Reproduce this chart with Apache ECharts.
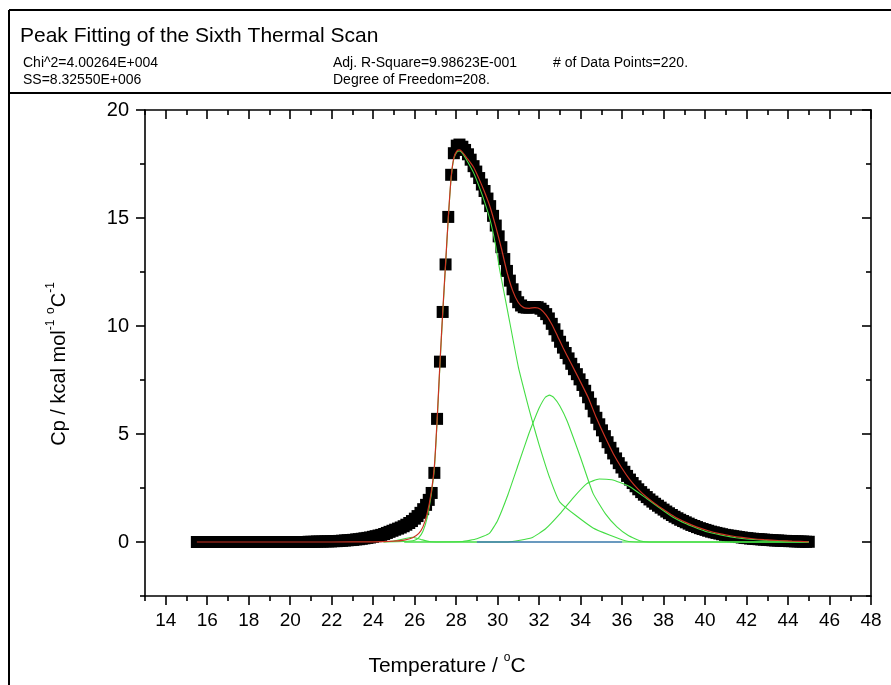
<!DOCTYPE html>
<html>
<head>
<meta charset="utf-8">
<script src="https://cdn.jsdelivr.net/npm/echarts@6/dist/echarts.min.js"></script>
<style>
html,body{margin:0;padding:0;background:#fff;}
#chart{width:891px;height:685px;}
</style>
</head>
<body>
<div id="chart"></div>
<script>
// ---------- Data ----------
const temps = [
15.50,15.63,15.77,15.90,16.04,16.17,16.31,16.44,16.58,16.71,
16.85,16.98,17.12,17.25,17.39,17.52,17.66,17.79,17.92,18.06,
18.19,18.33,18.46,18.60,18.73,18.87,19.00,19.14,19.27,19.41,
19.54,19.68,19.81,19.95,20.08,20.21,20.35,20.48,20.62,20.75,
20.89,21.02,21.16,21.29,21.43,21.56,21.70,21.83,21.97,22.10,
22.24,22.37,22.50,22.64,22.77,22.91,23.04,23.18,23.31,23.45,
23.58,23.72,23.85,23.99,24.12,24.26,24.39,24.53,24.66,24.79,
24.93,25.06,25.20,25.33,25.47,25.60,25.74,25.87,26.01,26.14,
26.28,26.41,26.55,26.68,26.82,26.95,27.08,27.22,27.35,27.49,
27.62,27.76,27.89,28.03,28.16,28.30,28.43,28.57,28.70,28.84,
28.97,29.11,29.24,29.37,29.51,29.64,29.78,29.91,30.05,30.18,
30.32,30.45,30.59,30.72,30.86,30.99,31.13,31.26,31.40,31.53,
31.66,31.80,31.93,32.07,32.20,32.34,32.47,32.61,32.74,32.88,
33.01,33.15,33.28,33.42,33.55,33.68,33.82,33.95,34.09,34.22,
34.36,34.49,34.63,34.76,34.90,35.03,35.17,35.30,35.44,35.57,
35.71,35.84,35.97,36.11,36.24,36.38,36.51,36.65,36.78,36.92,
37.05,37.19,37.32,37.46,37.59,37.73,37.86,38.00,38.13,38.26,
38.40,38.53,38.67,38.80,38.94,39.07,39.21,39.34,39.48,39.61,
39.75,39.88,40.02,40.15,40.29,40.42,40.55,40.69,40.82,40.96,
41.09,41.23,41.36,41.50,41.63,41.77,41.90,42.04,42.17,42.31,
42.44,42.58,42.71,42.84,42.98,43.11,43.25,43.38,43.52,43.65,
43.79,43.92,44.06,44.19,44.33,44.46,44.60,44.73,44.87,45.00
];
const cpData = [
0,0,0,0,0,0,0,0,0,0,
0,0,0,0,0,0,0,0,0,0,
0,0,0,0,0,0,0,0,0,0,
0,0,0,0,0,0,0,0,0,0,
0.01,0.01,0.01,0.02,0.02,0.02,0.03,0.03,0.03,0.04,
0.04,0.05,0.06,0.07,0.08,0.09,0.10,0.12,0.13,0.15,
0.17,0.19,0.21,0.24,0.27,0.30,0.33,0.37,0.42,0.47,
0.52,0.57,0.62,0.67,0.73,0.80,0.88,0.97,1.08,1.20,
1.35,1.52,1.72,1.95,2.27,3.20,5.70,8.35,10.65,12.85,
15.05,17.00,18.00,18.35,18.40,18.30,18.15,17.95,17.70,17.40,
17.15,16.85,16.55,16.25,15.90,15.55,15.10,14.65,14.15,13.65,
13.10,12.55,12.10,11.70,11.35,11.10,10.95,10.87,10.85,10.85,
10.87,10.88,10.87,10.80,10.70,10.55,10.35,10.10,9.85,9.55,
9.27,9.00,8.75,8.50,8.25,8.00,7.77,7.53,7.27,7.00,
6.70,6.40,6.05,5.75,5.45,5.17,4.90,4.62,4.36,4.10,
3.87,3.65,3.45,3.25,3.06,2.89,2.73,2.58,2.44,2.31,
2.19,2.08,1.97,1.87,1.77,1.68,1.59,1.50,1.41,1.33,
1.25,1.17,1.10,1.03,0.97,0.91,0.85,0.79,0.74,0.69,
0.64,0.60,0.56,0.52,0.48,0.45,0.42,0.39,0.36,0.33,
0.31,0.29,0.27,0.25,0.23,0.21,0.19,0.18,0.16,0.15,
0.14,0.13,0.12,0.11,0.10,0.09,0.08,0.07,0.07,0.06,
0.05,0.05,0.04,0.04,0.03,0.03,0.02,0.02,0.01,0.01
];

// cumulative fit (red)
const fitT  = [15.5,22,24,25,25.5,25.9,26.2,26.4,26.6,26.8,26.95,27.08,27.22,27.35,27.49,27.62,27.76,27.89,28.03,28.16,28.3,28.5,28.84,29.11,29.37,29.64,29.91,30.18,30.45,30.72,30.99,31.26,31.53,31.8,32.07,32.34,32.61,32.88,33.15,33.55,33.95,34.36,34.76,35.17,35.57,35.97,36.38,36.78,37.19,37.59,38.0,38.53,39.07,39.61,40.15,40.69,41.23,41.77,42.31,42.84,43.52,44.19,45];
const fitCp = [0,0,0.01,0.04,0.09,0.2,0.4,0.7,1.3,2.3,3.5,5.6,8.3,10.6,12.9,15.0,16.9,17.8,18.1,18.15,18.05,17.8,17.35,16.8,16.2,15.5,14.6,13.6,12.5,11.65,11.1,10.85,10.82,10.85,10.78,10.5,10.08,9.55,9.0,8.25,7.5,6.7,5.75,4.88,4.1,3.45,2.88,2.44,2.07,1.77,1.5,1.17,0.91,0.69,0.52,0.39,0.29,0.21,0.15,0.11,0.07,0.04,0.01];

// peak components (green)
const peakAT  = [24.5,25.5,26,26.2,26.4,26.6,26.8,26.95,27.08,27.22,27.35,27.49,27.62,27.76,27.89,28.03,28.16,28.3,28.5,28.84,29.11,29.37,29.64,29.91,30.1,30.5,31.0,31.5,31.7,32.0,32.5,33.0,34.6,36.2,37,45];
const peakACp = [0,0.02,0.08,0.2,0.5,1.1,2.2,3.4,5.5,8.2,10.5,12.8,14.95,16.85,17.75,18.05,18.1,18.0,17.7,17.1,16.45,15.75,14.9,13.7,12.6,10.6,8.1,6.2,5.5,4.5,3.0,1.85,0.65,0.05,0,0];
const peakBT  = [25.5,28.3,29.0,29.6,30.0,30.5,31.0,31.5,31.7,32.0,32.3,32.5,32.7,33.0,33.35,34.0,34.6,35.2,35.75,36.3,36.9,37.5,45];
const peakBCp = [0,0.02,0.15,0.4,1.0,2.2,3.6,5.0,5.5,6.2,6.7,6.8,6.7,6.3,5.6,3.9,2.25,1.3,0.7,0.3,0.05,0,0];
const peakCT  = [25.5,30.5,31.65,32.3,33.0,33.6,34.3,34.9,35.5,35.9,36.4,37.2,38.0,38.5,39.0,39.5,40,40.5,41,41.5,42,43,44,45];
const peakCCp = [0,0,0.2,0.6,1.3,2.0,2.7,2.92,2.88,2.75,2.55,2.0,1.45,1.12,0.88,0.68,0.5,0.38,0.28,0.2,0.14,0.07,0.03,0.01];
const peakDT  = [24.5,25.0,25.5,25.9,26.3,26.7,27.2,45];
const peakDCp = [0.01,0.05,0.15,0.22,0.12,0.02,0,0];
// baseline (blue)
const baseT  = [29,36];
const baseCp = [0,0];

// ticks
const xMajor = [14,16,18,20,22,24,26,28,30,32,34,36,38,40,42,44,46,48];
const xMinor = [13,15,17,19,21,23,25,27,29,31,33,35,37,39,41,43,45,47];
const yMajor = [0,5,10,15,20];
const yMinor = [-2.5,2.5,7.5,12.5,17.5];

// ---------- Chart ----------
const FONT = '"Liberation Sans", Arial, sans-serif';
const zip = (a, b) => a.map((v, i) => [v, b[i]]);

function xAx(pos, ticks, len, inside, labels, line) {
  return {
    type: 'value', position: pos, min: 13, max: 48, interval: 1,
    axisLine: {show: line, onZero: false, lineStyle: {color: '#000', width: 1.6}},
    axisTick: {show: true, inside: inside, length: len, customValues: ticks, lineStyle: {color: '#000', width: 1.6}},
    axisLabel: labels ? {show: true, customValues: xMajor, fontSize: 19, color: '#000', fontFamily: FONT, margin: 15} : {show: false},
    splitLine: {show: false}
  };
}
function yAx(pos, ticks, len, inside, labels, line) {
  return {
    type: 'value', position: pos, min: -2.5, max: 20, interval: 2.5,
    axisLine: {show: line, onZero: false, lineStyle: {color: '#000', width: 1.6}},
    axisTick: {show: true, inside: inside, length: len, customValues: ticks, lineStyle: {color: '#000', width: 1.6}},
    axisLabel: labels ? {show: true, customValues: yMajor, fontSize: 20, color: '#000', fontFamily: FONT, margin: 16} : {show: false},
    splitLine: {show: false}
  };
}

const xAxes = [
  xAx('bottom', xMajor, 9, false, true, true),
  xAx('bottom', xMinor, 5, false, false, false),
  xAx('top', xMajor, 9, true, false, true),
  xAx('top', xMinor, 5, true, false, false)
];
xAxes[0].name = '{n|Temperature / }{s|o}{n|C}';
xAxes[0].nameLocation = 'middle';
xAxes[0].nameGap = 56;
xAxes[0].nameTextStyle = {
  padding: [0, 122, 0, 0],
  rich: {
    n: {fontSize: 21, fontFamily: FONT, color: '#000', lineHeight: 25, verticalAlign: 'bottom'},
    s: {fontSize: 12, fontFamily: FONT, color: '#000', lineHeight: 25, verticalAlign: 'top'}
  }
};
const yAxes = [
  yAx('left', yMajor, 9, false, true, true),
  yAx('left', yMinor, 5, false, false, false),
  yAx('right', yMajor, 9, true, false, true),
  yAx('right', yMinor, 5, true, false, false)
];
yAxes[0].name = '{n|Cp / kcal mol}{s|-1}{n| }{s|o}{n|C}{s|-1}';
yAxes[0].nameLocation = 'middle';
yAxes[0].nameGap = 76;
yAxes[0].nameTextStyle = {
  padding: [0, 22, 0, 0],
  rich: {
    n: {fontSize: 20, fontFamily: FONT, color: '#000', lineHeight: 24, verticalAlign: 'bottom'},
    s: {fontSize: 12, fontFamily: FONT, color: '#000', lineHeight: 24, verticalAlign: 'top'}
  }
};

const green = '#44dd44';
function comp(t, c) {
  return {type: 'line', data: zip(t, c), showSymbol: false, symbol: 'none', smooth: 0.15,
    lineStyle: {color: green, width: 1.1}, z: 3, silent: true};
}

const option = {
  animation: false,
  backgroundColor: '#fff',
  grid: {left: 145, right: 20, top: 110, bottom: 89, containLabel: false},
  xAxis: xAxes,
  yAxis: yAxes,
  series: [
    {type: 'scatter', data: zip(temps, cpData), symbol: 'rect', symbolSize: 12,
      itemStyle: {color: '#000', opacity: 1}, z: 2, silent: true, large: false},
    comp(peakDT, peakDCp),
    comp(peakAT, peakACp),
    comp(peakBT, peakBCp),
    comp(peakCT, peakCCp),
    {type: 'line', data: zip(baseT, baseCp), showSymbol: false, symbol: 'none',
      lineStyle: {color: '#3344dd', width: 1.1}, z: 4, silent: true},
    {type: 'line', data: zip(fitT, fitCp), showSymbol: false, symbol: 'none', smooth: 0.2,
      lineStyle: {color: '#cc3322', width: 1.2}, z: 5, silent: true}
  ],
  graphic: [
    {type: 'line', shape: {x1: 9, y1: 10, x2: 891, y2: 10}, style: {stroke: '#000', lineWidth: 2}},
    {type: 'line', shape: {x1: 9, y1: 10, x2: 9, y2: 685}, style: {stroke: '#000', lineWidth: 2}},
    {type: 'line', shape: {x1: 9, y1: 93, x2: 891, y2: 93}, style: {stroke: '#000', lineWidth: 2}},
    {type: 'text', x: 20, y: 36, style: {text: 'Peak Fitting of the Sixth Thermal Scan', fontSize: 21, fontFamily: FONT, fill: '#000', verticalAlign: 'middle'}},
    {type: 'text', x: 23, y: 63, style: {text: 'Chi^2=4.00264E+004', fontSize: 14, fontFamily: FONT, fill: '#000', verticalAlign: 'middle'}},
    {type: 'text', x: 23, y: 80, style: {text: 'SS=8.32550E+006', fontSize: 14, fontFamily: FONT, fill: '#000', verticalAlign: 'middle'}},
    {type: 'text', x: 333, y: 63, style: {text: 'Adj. R-Square=9.98623E-001', fontSize: 14, fontFamily: FONT, fill: '#000', verticalAlign: 'middle'}},
    {type: 'text', x: 333, y: 80, style: {text: 'Degree of Freedom=208.', fontSize: 14, fontFamily: FONT, fill: '#000', verticalAlign: 'middle'}},
    {type: 'text', x: 553, y: 63, style: {text: '# of Data Points=220.', fontSize: 14, fontFamily: FONT, fill: '#000', verticalAlign: 'middle'}}
  ]
};

const chart = echarts.init(document.getElementById('chart'), null, {renderer: 'canvas'});
chart.setOption(option);
</script>
</body>
</html>
